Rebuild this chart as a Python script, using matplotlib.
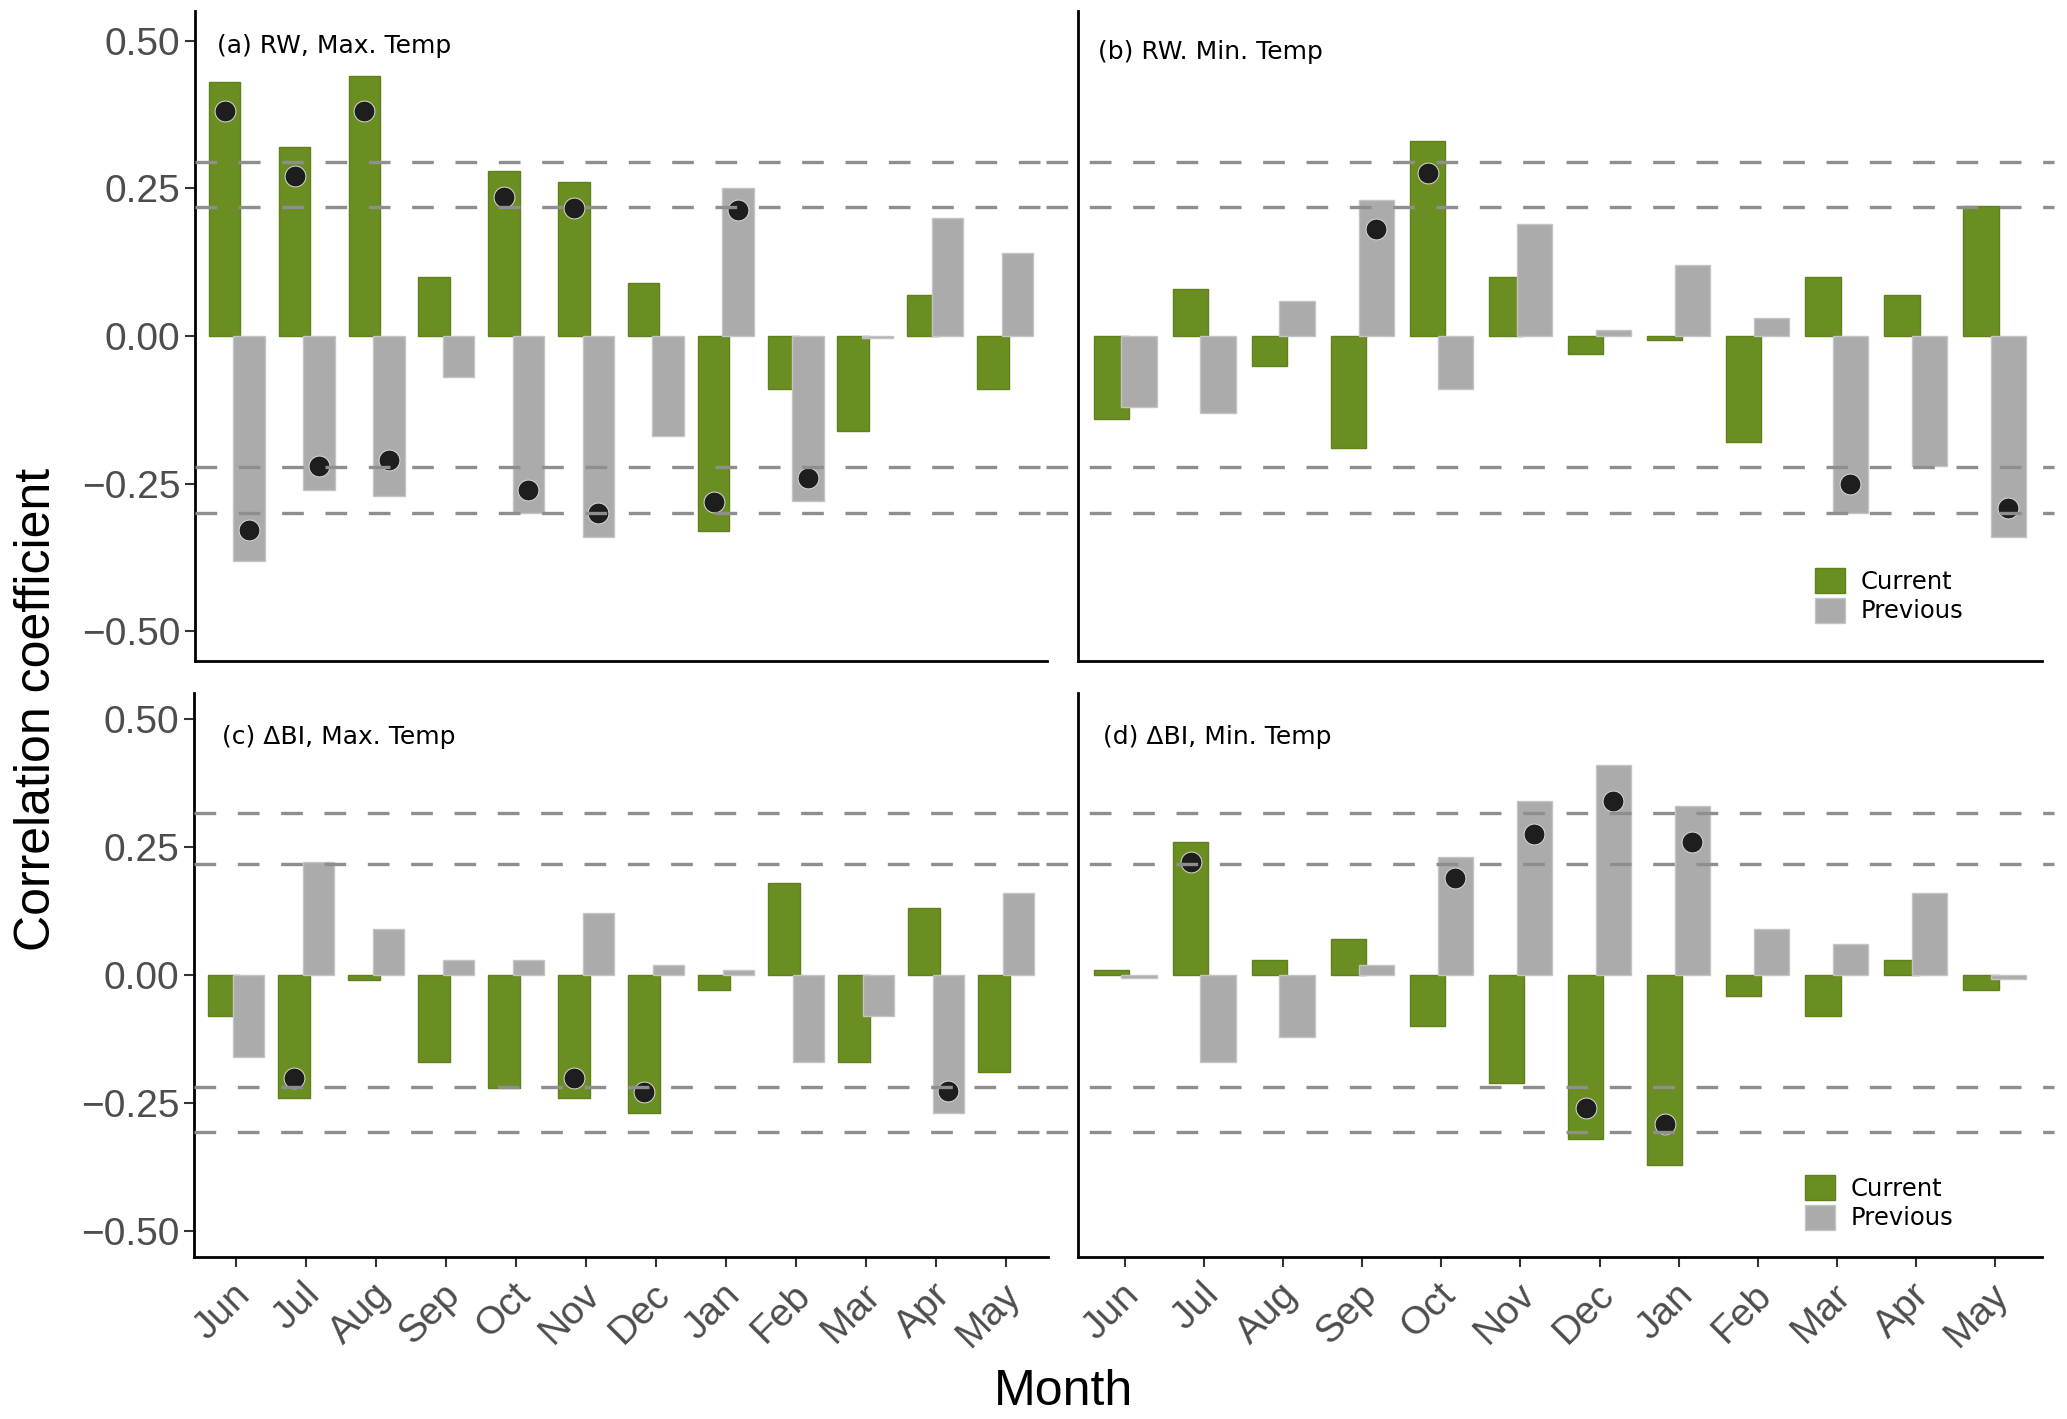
import numpy as np
import matplotlib
matplotlib.use("Agg")
import matplotlib.pyplot as plt
from matplotlib.patches import Patch
from matplotlib.transforms import ScaledTranslation

nan = np.nan
months = ['Jun', 'Jul', 'Aug', 'Sep', 'Oct', 'Nov', 'Dec', 'Jan', 'Feb', 'Mar', 'Apr', 'May']

# (a) RW, Max. Temp
a_cur = [0.43, 0.32, 0.44, 0.10, 0.28, 0.26, 0.09, -0.33, -0.09, -0.16, 0.07, -0.09]
a_prev = [-0.38, -0.26, -0.27, -0.07, -0.30, -0.34, -0.17, 0.25, -0.28, -0.003, 0.20, 0.14]
a_cur_dot = [0.38, 0.27, 0.38, nan, 0.235, 0.216, nan, -0.281, nan, nan, nan, nan]
a_prev_dot = [-0.328, -0.22, -0.21, nan, -0.261, -0.300, nan, 0.214, -0.240, nan, nan, nan]

# (b) RW. Min. Temp
b_cur = [-0.14, 0.08, -0.05, -0.19, 0.33, 0.10, -0.03, -0.007, -0.18, 0.10, 0.07, 0.22]
b_prev = [-0.12, -0.13, 0.06, 0.23, -0.09, 0.19, 0.01, 0.12, 0.03, -0.30, -0.22, -0.34]
b_cur_dot = [nan, nan, nan, nan, 0.276, nan, nan, nan, nan, nan, nan, nan]
b_prev_dot = [nan, nan, nan, 0.181, nan, nan, nan, nan, nan, -0.251, nan, -0.291]

# (c) dBI, Max. Temp
c_cur = [-0.08, -0.24, -0.01, -0.17, -0.22, -0.24, -0.27, -0.03, 0.18, -0.17, 0.13, -0.19]
c_prev = [-0.16, 0.22, 0.09, 0.03, 0.03, 0.12, 0.02, 0.01, -0.17, -0.08, -0.27, 0.16]
c_cur_dot = [nan, -0.20, nan, nan, nan, -0.20, -0.229, nan, nan, nan, nan, nan]
c_prev_dot = [nan, nan, nan, nan, nan, nan, nan, nan, nan, nan, -0.226, nan]

# (d) dBI, Min. Temp
d_cur = [0.01, 0.26, 0.03, 0.07, -0.10, -0.21, -0.32, -0.37, -0.04, -0.08, 0.03, -0.03]
d_prev = [-0.005, -0.17, -0.12, 0.02, 0.23, 0.34, 0.41, 0.33, 0.09, 0.06, 0.16, -0.007]
d_cur_dot = [nan, 0.22, nan, nan, nan, nan, -0.259, -0.290, nan, nan, nan, nan]
d_prev_dot = [nan, nan, nan, nan, 0.19, 0.275, 0.340, 0.259, nan, nan, nan, nan]

# significance thresholds (dashed lines)
thr_rw = [0.295, 0.219, -0.221, -0.299]
thr_bi = [0.316, 0.216, -0.218, -0.306]

titles = ['(a) RW, Max. Temp', '(b) RW. Min. Temp', '(c) \u0394BI, Max. Temp', '(d) \u0394BI, Min. Temp']
yticks = [-0.5, -0.25, 0.0, 0.25, 0.5]
ytick_labels = ['\u22120.50', '\u22120.25', '0.00', '0.25', '0.50']

GREEN = '#6B8E23'
GREEN_EDGE = '#5E8119'
GREY = '#ABABAB'
GREY_EDGE = '#C4C4C4'
DASH = '#8E8E8E'
TICKCOL = '#4D4D4D'

W, H = 2067, 1419
fig = plt.figure(figsize=(W / 100, H / 100), dpi=100)
fig.patch.set_facecolor('white')


def box(l, t, r, b):
    return [l / W, 1 - b / H, (r - l) / W, (b - t) / H]


ax_a = fig.add_axes(box(195, 11, 1047, 661))
ax_b = fig.add_axes(box(1078, 11, 2042, 661))
ax_c = fig.add_axes(box(194, 693, 1048, 1257))
ax_d = fig.add_axes(box(1078, 693, 2042, 1257))

panels = [
    (ax_a, a_cur, a_prev, a_cur_dot, a_prev_dot, thr_rw),
    (ax_b, b_cur, b_prev, b_cur_dot, b_prev_dot, thr_rw),
    (ax_c, c_cur, c_prev, c_cur_dot, c_prev_dot, thr_bi),
    (ax_d, d_cur, d_prev, d_cur_dot, d_prev_dot, thr_bi),
]

x = np.arange(len(months))
off = 0.175
bw = 0.45

for i, (ax, cur, prev, cdot, pdot, thr) in enumerate(panels):
    ax.bar(x - off, cur, width=bw, color=GREEN, edgecolor=GREEN_EDGE, linewidth=1.0, zorder=2)
    ax.bar(x + off, prev, width=bw, color=GREY, edgecolor=GREY_EDGE, linewidth=1.0, zorder=3)
    ax.plot(x - off, cdot, 'o', color='#1E1E1E', markersize=15, mec='#DADADA', mew=0.7,
            zorder=4, linestyle='none')
    ax.plot(x + off, pdot, 'o', color='#1E1E1E', markersize=15, mec='#DADADA', mew=0.7,
            zorder=4, linestyle='none')
    left = (i % 2 == 0)
    for t in thr:
        if left:
            ax.axhline(t, xmin=0, xmax=1.0, color=DASH, lw=2.4,
                       linestyle=(0, (6.5, 6.5)), zorder=5, clip_on=False)
        else:
            ax.axhline(t, xmin=-0.033, xmax=1.012, color=DASH, lw=2.4,
                       linestyle=(0, (6.5, 6.5)), zorder=5, clip_on=False)
    ax.set_xlim(-0.6, 11.6)
    ax.set_ylim(-0.55, 0.55)
    for s in ['top', 'right']:
        ax.spines[s].set_visible(False)
    for s in ['left', 'bottom']:
        ax.spines[s].set_linewidth(2.0)
        ax.spines[s].set_color('black')
    ax.set_facecolor('none')
    if left:
        ax.set_yticks(yticks)
        ax.set_yticklabels(ytick_labels, fontsize=28, color=TICKCOL, family='Liberation Sans')
        ax.tick_params(axis='y', length=7, width=1.5, color='#333333', pad=3.6)
    else:
        ax.set_yticks([])
        ax.tick_params(axis='y', left=False, labelleft=False)
    if i >= 2:
        ax.set_xticks(x)
        ax.set_xticklabels(months, fontsize=28, color=TICKCOL, family='Liberation Sans',
                           rotation=45, ha='right', va='top', rotation_mode='anchor')
        ax.tick_params(axis='x', length=7, width=1.5, color='#333333', pad=7)
        for lab in ax.get_xticklabels():
            lab.set_transform(lab.get_transform() + ScaledTranslation(-4 / 100, 0, fig.dpi_scale_trans))
    else:
        ax.set_xticks([])
        ax.tick_params(axis='x', bottom=False, labelbottom=False)

# panel titles
title_pos = [(217, 53), (1098, 59), (222, 744), (1103, 744)]
for txt, (px, py) in zip(titles, title_pos):
    fig.text(px / W, 1 - py / H, txt, fontsize=18, family='DejaVu Sans', color='black',
             ha='left', va='baseline')

# legends
handles = [Patch(facecolor=GREEN, edgecolor=GREEN_EDGE, linewidth=1.0),
           Patch(facecolor=GREY, edgecolor=GREY_EDGE, linewidth=1.0)]
for ax, (lx, ly) in [(ax_b, (1815, 568)), (ax_d, (1805, 1175))]:
    ax.legend(handles, ['Current', 'Previous'], loc='upper left',
              bbox_to_anchor=(lx / W, 1 - ly / H), bbox_transform=fig.transFigure,
              frameon=False, prop={'family': 'DejaVu Sans', 'size': 17.5},
              handlelength=1.23, handleheight=1.23, handletextpad=0.65,
              labelspacing=0.15, borderpad=0, borderaxespad=0)

# axis titles
fig.text(37 / W, 0.5, 'Correlation coefficient', rotation=90, fontsize=36,
         family='Liberation Sans', ha='center', va='center', color='black')
fig.text(1063 / W, 1 - 1392 / H, 'Month', fontsize=36, family='Liberation Sans',
         ha='center', va='center', color='black')

fig.savefig('out.png', dpi=100, facecolor='white')
